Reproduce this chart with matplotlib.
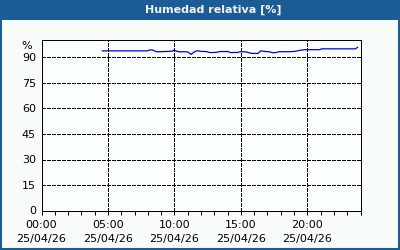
import matplotlib
matplotlib.use('Agg')
import matplotlib.pyplot as plt
from matplotlib.patches import Rectangle

# humedad relativa, horas del dia 25/04/26
hours = [4.58, 7.95, 8.18, 8.40, 8.63, 8.93, 9.53, 9.83, 9.98, 10.2, 10.43,
         10.8, 11.03, 11.25, 11.48, 11.7, 12.0, 12.38, 12.68, 13.13, 13.43,
         14.03, 14.25, 14.78, 14.93, 15.38, 15.6, 15.83, 16.28, 16.5, 16.88,
         17.18, 17.4, 17.63, 17.85, 18.68, 19.05, 19.43, 19.8, 20.93, 21.08,
         23.63, 23.78]
humidity = [93.9, 93.9, 94.5, 94.3, 93.4, 93.4, 93.6, 93.7, 94.4, 93.6, 93.3,
            93.4, 93.2, 91.8, 93.2, 94.0, 93.6, 93.5, 92.9, 93.0, 93.5,
            93.5, 92.9, 93.0, 93.4, 93.3, 92.8, 92.4, 92.4, 93.9, 93.5,
            93.3, 92.8, 92.9, 93.4, 93.4, 93.6, 94.2, 94.6, 94.6, 95.1,
            95.1, 96.0]

x_ticks = [0, 5, 10, 15, 20]
x_labels = ['00:00\n25/04/26', '05:00\n25/04/26', '10:00\n25/04/26',
            '15:00\n25/04/26', '20:00\n25/04/26']
y_ticks = [0, 15, 30, 45, 60, 75, 90]

blue = '#1c5c96'
fig = plt.figure(figsize=(4, 2.5), dpi=100)
fig.patch.set_facecolor('#f8fcf8')

# title bar and frame
fig.add_artist(Rectangle((0, 0.92), 1, 0.08, transform=fig.transFigure,
                         facecolor=blue, edgecolor='none'))
fig.add_artist(Rectangle((0.0015, 0.003), 0.996, 0.995, transform=fig.transFigure,
                         facecolor='none', edgecolor=blue, linewidth=1.5))
fig.text(0.533, 0.96, 'Humedad relativa [%]', color='#f0f4f8', fontsize=8,
         fontweight='bold', ha='center', va='center')

# axes edges on pixel centres so the 1px frame stays crisp
ax = fig.add_axes([41.5 / 400, 1 - 210.5 / 250, 319 / 400, 170 / 250])
ax.set_facecolor('#fbfffc')
ax.plot(hours, humidity, color='#0000e0', linewidth=0.9)

ax.set_xlim(0, 24)
ax.set_ylim(0, 100)
ax.set_xticks(x_ticks)
ax.set_xticklabels(x_labels, fontsize=8, linespacing=1.45)
ax.set_xticks(range(0, 25), minor=True)
ax.set_yticks(y_ticks)
ax.set_yticklabels([str(v) for v in y_ticks], fontsize=8)
ax.tick_params(axis='y', length=0, pad=4)
ax.tick_params(axis='x', which='both', length=3, width=0.72, direction='out', pad=4)
ax.text(-0.03, 0.965, '%', transform=ax.transAxes, ha='right', va='center', fontsize=8)

# dashed grid, only on the inner ticks
grid_style = dict(color='black', linestyle=(0, (3, 2)), linewidth=0.72,
                  zorder=1, antialiased=False)
for h in x_ticks[1:]:
    ax.axvline(h, **grid_style)
for v in y_ticks[1:]:
    ax.axhline(v, **grid_style)

for s in ax.spines.values():
    s.set_linewidth(0.72)
    s.set_color('black')
    s.set_zorder(3)

fig.savefig('out.png', dpi=100, facecolor=fig.get_facecolor())
